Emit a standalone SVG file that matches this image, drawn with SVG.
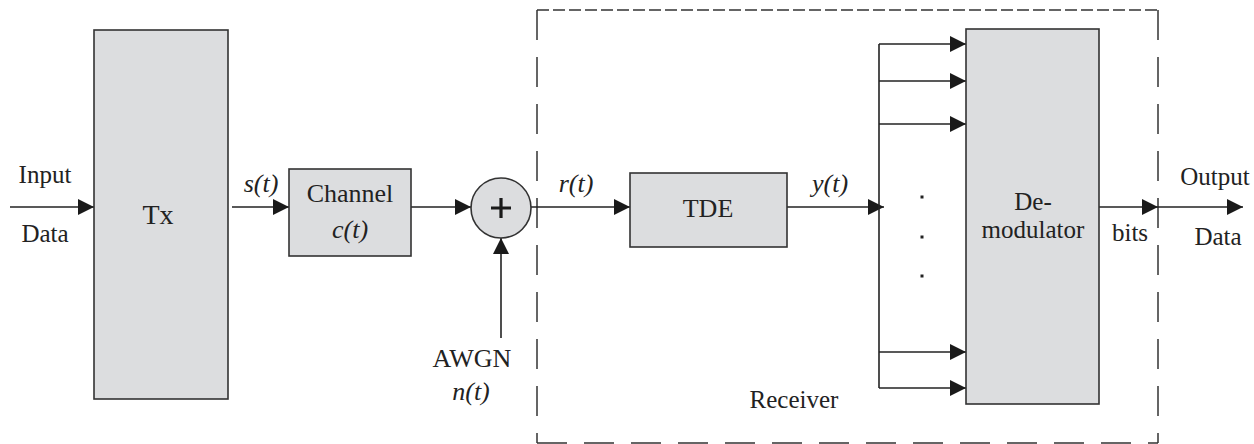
<svg xmlns="http://www.w3.org/2000/svg" width="1254" height="444" viewBox="0 0 1254 444">
<style>
.box{fill:#dcdddf;stroke:#333;stroke-width:1.6}
.ln{fill:none;stroke:#222;stroke-width:1.6}
.t{font-family:'Liberation Serif','DejaVu Serif',serif;font-size:25px;fill:#222;text-anchor:middle}
.i{font-style:italic}
.dash{fill:none;stroke:#333;stroke-width:1.5}
</style>
<defs>
<marker id="ah" markerUnits="userSpaceOnUse" markerWidth="17" markerHeight="17" refX="16" refY="8" orient="auto">
<path d="M0,0 L16,8 L0,16 z" fill="#1a1a1a"/>
</marker>
</defs>
<rect width="1254" height="444" fill="#fff"/>

<g id="receiver-boundary">
<line class="dash" x1="537" y1="10" x2="1158" y2="10" stroke-dasharray="12,4"/>
<line class="dash" x1="537" y1="10" x2="537" y2="443" stroke-dasharray="30,17"/>
<line class="dash" x1="1158" y1="10" x2="1158" y2="443" stroke-dasharray="30,17"/>
<line class="dash" x1="537" y1="443" x2="1158" y2="443" stroke-dasharray="30,17"/>
<text class="t" x="794" y="408">Receiver</text>
</g>

<g id="connectors">
<line class="ln" x1="10" y1="207" x2="94" y2="207" marker-end="url(#ah)"/>
<line class="ln" x1="232" y1="207" x2="289" y2="207" marker-end="url(#ah)"/>
<line class="ln" x1="411" y1="207" x2="471" y2="207" marker-end="url(#ah)"/>
<line class="ln" x1="501" y1="338" x2="501" y2="238" marker-end="url(#ah)"/>
<line class="ln" x1="531" y1="207" x2="630" y2="207" marker-end="url(#ah)"/>
<line class="ln" x1="787" y1="207" x2="884" y2="207" marker-end="url(#ah)"/>
<line class="ln" x1="879" y1="44" x2="879" y2="388"/>
<line class="ln" x1="879" y1="44" x2="966" y2="44" marker-end="url(#ah)"/>
<line class="ln" x1="879" y1="81" x2="966" y2="81" marker-end="url(#ah)"/>
<line class="ln" x1="879" y1="124" x2="966" y2="124" marker-end="url(#ah)"/>
<line class="ln" x1="879" y1="352" x2="966" y2="352" marker-end="url(#ah)"/>
<line class="ln" x1="879" y1="388" x2="966" y2="388" marker-end="url(#ah)"/>
<line class="ln" x1="1099" y1="207" x2="1158" y2="207" marker-end="url(#ah)"/>
<line class="ln" x1="1158" y1="207" x2="1243" y2="207" marker-end="url(#ah)"/>
<rect x="920.5" y="195.5" width="3" height="3" fill="#222"/>
<rect x="920.5" y="235.5" width="3" height="3" fill="#222"/>
<rect x="920.5" y="274.5" width="3" height="3" fill="#222"/>
<text class="t" x="45" y="183">Input</text>
<text class="t" x="45" y="242">Data</text>
<text class="t i" x="261" y="192" style="font-size:26px">s(t)</text>
<text class="t i" x="576" y="192" style="font-size:26px">r(t)</text>
<text class="t i" x="830" y="192" style="font-size:26px">y(t)</text>
<text class="t" x="1130" y="241">bits</text>
<text class="t" x="1215" y="185">Output</text>
<text class="t" x="1218" y="245">Data</text>
</g>

<g id="tx">
<rect class="box" x="94" y="30" width="134" height="369"/>
<text class="t" x="158" y="224" style="font-size:28px">Tx</text>
</g>

<g id="channel">
<rect class="box" x="289" y="169" width="122" height="87"/>
<text class="t" x="350" y="202" style="font-size:26px">Channel</text>
<text class="t i" x="350" y="238" style="font-size:26px">c(t)</text>
</g>

<g id="adder">
<circle class="box" cx="501" cy="208" r="30"/>
<path d="M501,198 V218 M491,208 H511" stroke="#1a1a1a" stroke-width="3.2" fill="none"/>
</g>

<g id="awgn">
<text class="t" x="472" y="367" style="font-size:26px">AWGN</text>
<text class="t i" x="471" y="400" style="font-size:26px">n(t)</text>
</g>

<g id="tde">
<rect class="box" x="630" y="173" width="157" height="74"/>
<text class="t" x="708" y="217" style="font-size:26px">TDE</text>
</g>

<g id="demodulator">
<rect class="box" x="966" y="29" width="133" height="375"/>
<text class="t" x="1033" y="210">De-</text>
<text class="t" x="1033" y="238">modulator</text>
</g>
</svg>
